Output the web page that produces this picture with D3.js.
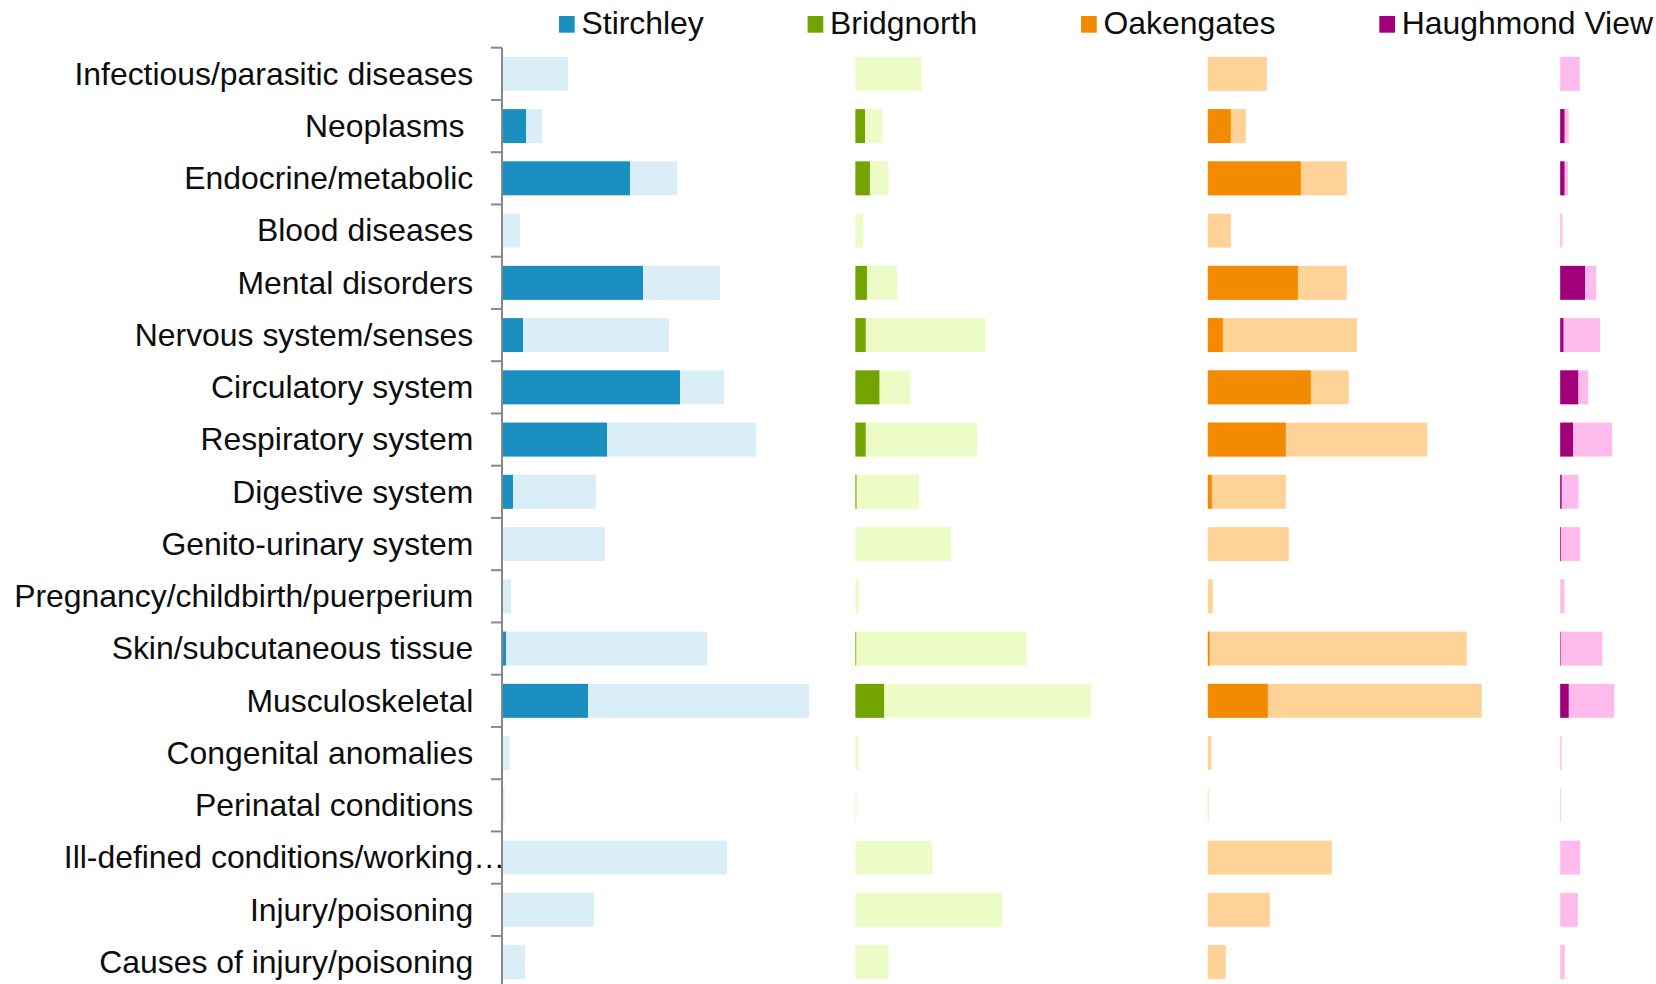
<!DOCTYPE html>
<html>
<head>
<meta charset="utf-8">
<script src="https://cdn.jsdelivr.net/npm/d3@7"></script>
<style>
  html, body { margin: 0; padding: 0; background: #fff; }
  svg { display: block; }
  text { font-family: "Liberation Sans", Arial, sans-serif; fill: #0d0d0d; white-space: pre; }
</style>
</head>
<body>
<svg id="chart" width="1656" height="984"></svg>
<script>
const categories = [
  "Infectious/parasitic diseases", "Neoplasms ", "Endocrine/metabolic", "Blood diseases",
  "Mental disorders", "Nervous system/senses", "Circulatory system", "Respiratory system",
  "Digestive system", "Genito-urinary system", "Pregnancy/childbirth/puerperium",
  "Skin/subcutaneous tissue", "Musculoskeletal", "Congenital anomalies", "Perinatal conditions",
  "Ill-defined conditions/working…", "Injury/poisoning", "Causes of injury/poisoning"
];
const sites = ["Stirchley", "Bridgnorth", "Oakengates", "Haughmond View"];
const darkColors = ["#1b8fc0", "#72a300", "#f38b00", "#a0007a"];
const lightColors = ["#daeef8", "#edfcc6", "#ffd298", "#ffbbec"];

const stirchleyDark   = [0, 23, 127, 0, 140, 20, 177, 104, 10, 0, 0, 3, 85, 0, 0, 0, 0, 0];
const stirchleyTotal  = [65, 39, 174, 17, 217, 166, 221, 253, 93, 102, 8, 204, 306, 6.5, 1.5, 224, 91, 22];
const bridgnorthDark  = [0, 9.6, 14.5, 0, 11.5, 10.3, 24, 10.3, 1.1, 0, 0, 0.8, 28.7, 0, 0, 0, 0, 0];
const bridgnorthTotal = [66, 27, 33, 8, 42, 130, 55, 122, 63.5, 96, 3.8, 171, 236, 3.1, 1, 77, 147, 33];
const oakengatesDark  = [0, 23, 93, 0, 90, 15, 103, 78, 4, 0, 0, 1.8, 60, 0, 0, 0, 0, 0];
const oakengatesTotal = [59, 38, 139, 23, 139, 149, 141, 219.5, 78, 81, 5, 259, 274, 3.5, 0.7, 124, 62, 18];
const haughmondDark   = [0, 4.3, 4.3, 0, 24.8, 3.2, 18, 12.8, 1.4, 0.7, 0, 0.5, 8.5, 0, 0, 0, 0, 0];
const haughmondTotal  = [19.5, 8.5, 7.8, 2.1, 36, 40, 28, 52, 18.4, 20, 4.3, 42, 54, 1.4, 0.7, 20, 17.7, 4.6];

const darkSeries = [stirchleyDark, bridgnorthDark, oakengatesDark, haughmondDark];
const totalSeries = [stirchleyTotal, bridgnorthTotal, oakengatesTotal, haughmondTotal];

const svg = d3.select("#chart");
const fontSize = 31.9;
const axisX = 502;
const plotLeft = 503;
const panelStep = 352.4;
const yTop = 47.7, yBottom = 988.2;

const y = d3.scaleBand().domain(categories).range([yTop, yBottom]).paddingInner(0.35).paddingOuter(0.175);
const x = d3.scaleLinear().domain([0, 350]).range([0, 350]);

// bars
sites.forEach((s, si) => {
  const g = svg.append("g").attr("transform", `translate(${plotLeft + si * panelStep},0)`);
  const rows = categories.map((c, i) => ({c, dark: darkSeries[si][i], total: totalSeries[si][i]}));
  g.selectAll("rect.light").data(rows).join("rect")
    .attr("class", "light")
    .attr("x", x(0)).attr("y", d => y(d.c))
    .attr("width", d => x(d.total) - x(0)).attr("height", y.bandwidth())
    .attr("fill", lightColors[si]);
  g.selectAll("rect.dark").data(rows.filter(d => d.dark > 0)).join("rect")
    .attr("class", "dark")
    .attr("x", x(0)).attr("y", d => y(d.c))
    .attr("width", d => x(d.dark) - x(0)).attr("height", y.bandwidth())
    .attr("fill", darkColors[si]);
});

// axis
const yTicks = d3.scaleLinear().domain([0, categories.length]).range([yTop, yBottom]);
const axisG = svg.append("g");
axisG.append("line").attr("x1", axisX).attr("x2", axisX).attr("y1", yTop).attr("y2", yBottom)
  .attr("stroke", "#888").attr("stroke-width", 2);
axisG.selectAll("line.tick").data(d3.range(categories.length + 1)).join("line")
  .attr("class", "tick")
  .attr("x1", axisX - 11).attr("x2", axisX).attr("y1", d => yTicks(d)).attr("y2", d => yTicks(d))
  .attr("stroke", "#888").attr("stroke-width", 2);

// labels
const labelX = 473.3;
categories.forEach(c => {
  const cy = y(c) + y.bandwidth() / 2;
  if (c.endsWith("…")) {
    svg.append("text").attr("x", labelX).attr("y", cy).attr("dy", "0.34em")
      .attr("text-anchor", "end").attr("font-size", fontSize).text(c.slice(0, -1));
    svg.append("text").attr("x", labelX).attr("y", cy).attr("dy", "0.34em")
      .attr("text-anchor", "start").attr("font-size", fontSize).text("…");
  } else {
    svg.append("text").attr("x", labelX).attr("y", cy).attr("dy", "0.34em")
      .attr("text-anchor", "end").attr("font-size", fontSize).text(c);
  }
});

// legend
let lx = 559;
sites.forEach((s, si) => {
  svg.append("rect").attr("x", lx).attr("y", 16).attr("width", 15.7).attr("height", 16.7)
    .attr("fill", darkColors[si]);
  const t = svg.append("text").attr("x", lx + 22.5).attr("y", 34.3)
    .attr("font-size", fontSize).text(s);
  const w = t.node().getComputedTextLength();
  lx = lx + 22.5 + w + 103.8;
});
</script>
</body>
</html>
